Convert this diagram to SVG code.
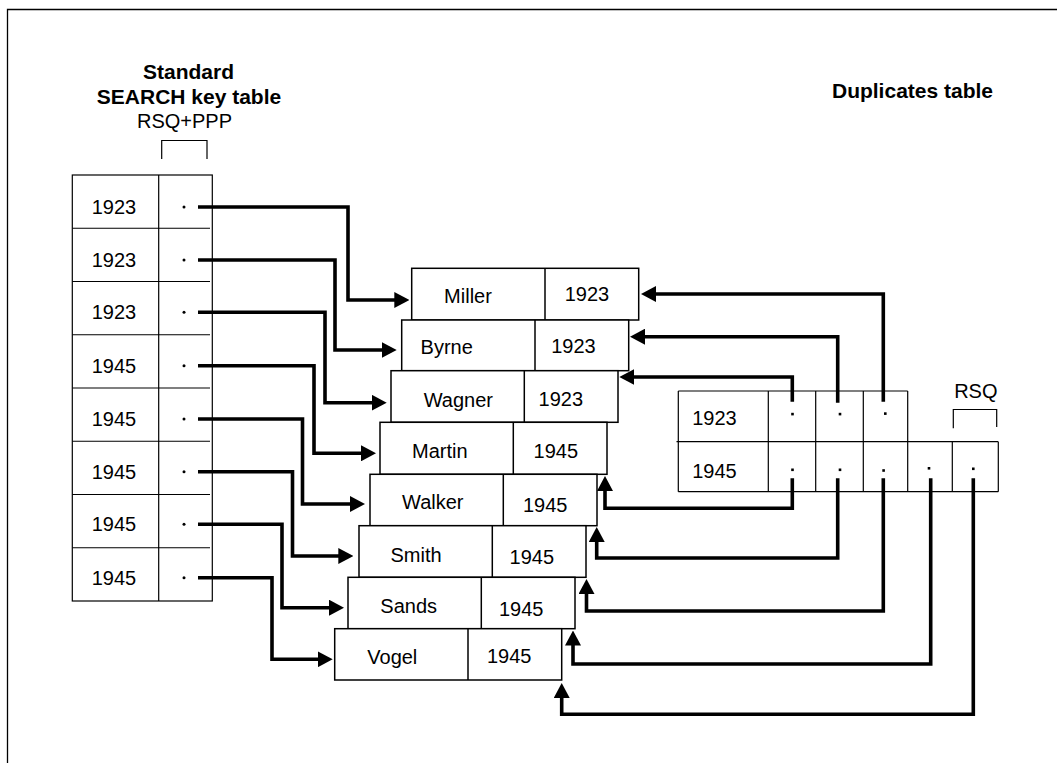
<svg xmlns="http://www.w3.org/2000/svg" width="1057" height="763" viewBox="0 0 1057 763">
<defs>
<style>
.t{font-family:"Liberation Sans",Arial,Helvetica,sans-serif;font-size:20px;fill:#000;text-anchor:middle}
.b{font-weight:bold;font-size:21px}
.thin{fill:none;stroke:#000;stroke-width:1.2}
.box{fill:#fff;stroke:#000;stroke-width:1.5}
.con{fill:none;stroke:#000;stroke-width:3.6;stroke-linejoin:miter;marker-end:url(#ah)}
.con0{fill:none;stroke:#000;stroke-width:3.6;stroke-linejoin:miter}
.dot{fill:#000}
</style>
<marker id="ah" viewBox="0 0 15 16" markerWidth="15" markerHeight="16" refX="5" refY="8" orient="auto" markerUnits="userSpaceOnUse">
<path d="M0,0 L15,8 L0,16 z" fill="#000"/>
</marker>
</defs>
<rect width="1057" height="763" fill="#fff"/>
<path d="M7.5,763 V9.5 H1057" fill="none" stroke="#000" stroke-width="1.3"/>

<g id="search-key-table">
<text class="t b" x="188.5" y="79">Standard</text>
<text class="t b" x="189" y="104">SEARCH key table</text>
<text class="t" x="184.5" y="128">RSQ+PPP</text>
<path class="thin" d="M161.7,159 V140.5 H207 V159"/>
<rect class="thin" x="72.3" y="175" width="140" height="426"/>
<path class="thin" d="M158.7,175 V601 M72.3,228.25 H210 M72.3,281.5 H210 M72.3,334.75 H210 M72.3,388 H210 M72.3,441.25 H210 M72.3,494.5 H210 M72.3,547.75 H210"/>
<text class="t" x="114" y="214">1923</text>
<text class="t" x="114" y="267">1923</text>
<text class="t" x="114" y="319.3">1923</text>
<text class="t" x="114" y="372.7">1945</text>
<text class="t" x="114" y="426">1945</text>
<text class="t" x="114" y="478.7">1945</text>
<text class="t" x="114" y="531.3">1945</text>
<text class="t" x="114" y="584.7">1945</text>
<g class="dot">
<circle cx="184" cy="207" r="1.5"/><circle cx="184" cy="260" r="1.5"/><circle cx="184" cy="312.3" r="1.5"/><circle cx="184" cy="365.7" r="1.5"/>
<circle cx="184" cy="419" r="1.5"/><circle cx="184" cy="471.7" r="1.5"/><circle cx="184" cy="524.3" r="1.5"/><circle cx="184" cy="577.7" r="1.5"/>
</g>
</g>

<g id="rec-miller"><rect class="box" x="411.7" y="268.3" width="227" height="51.7"/><path class="thin" style="stroke-width:1.5" d="M545,268.3 V320"/><text class="t" x="468" y="303.3">Miller</text><text class="t" x="587" y="300.7">1923</text></g>
<g id="rec-byrne"><rect class="box" x="401.7" y="320" width="227" height="50.7"/><path class="thin" style="stroke-width:1.5" d="M535,320 V370.7"/><text class="t" x="446.7" y="354.3">Byrne</text><text class="t" x="573.5" y="352.7">1923</text></g>
<g id="rec-wagner"><rect class="box" x="391" y="370.7" width="227" height="51.6"/><path class="thin" style="stroke-width:1.5" d="M524.3,370.7 V422.3"/><text class="t" x="458.3" y="406.7">Wagner</text><text class="t" x="560.8" y="405.7">1923</text></g>
<g id="rec-martin"><rect class="box" x="380" y="422.3" width="227" height="52"/><path class="thin" style="stroke-width:1.5" d="M513.3,422.3 V474.3"/><text class="t" x="439.8" y="458.3">Martin</text><text class="t" x="555.8" y="458.3">1945</text></g>
<g id="rec-walker"><rect class="box" x="370" y="474.3" width="227" height="51.4"/><path class="thin" style="stroke-width:1.5" d="M503.3,474.3 V525.7"/><text class="t" x="432.8" y="509.3">Walker</text><text class="t" x="545.2" y="511.7">1945</text></g>
<g id="rec-smith"><rect class="box" x="359" y="525.7" width="227" height="51.6"/><path class="thin" style="stroke-width:1.5" d="M492.3,525.7 V577.3"/><text class="t" x="416" y="561.7">Smith</text><text class="t" x="531.8" y="564.3">1945</text></g>
<g id="rec-sands"><rect class="box" x="348" y="577.3" width="227" height="51.4"/><path class="thin" style="stroke-width:1.5" d="M481.3,577.3 V628.7"/><text class="t" x="408.7" y="612.7">Sands</text><text class="t" x="521.2" y="615.7">1945</text></g>
<g id="rec-vogel"><rect class="box" x="334.7" y="628.7" width="227" height="51.3"/><path class="thin" style="stroke-width:1.5" d="M468,628.7 V680"/><text class="t" x="392.3" y="664.3">Vogel</text><text class="t" x="509.2" y="663.3">1945</text></g>

<g id="duplicates-table">
<text class="t b" x="912.5" y="98">Duplicates table</text>
<text class="t" x="975.8" y="398.3">RSQ</text>
<path class="thin" d="M953.3,428.3 V409.5 H996.7 V427"/>
<path class="thin" d="M678.3,391 H907.7 M676.5,441.7 H998.3 M678.3,491.7 H998.3 M678.3,391 V491.7 M768.3,391 V491.7 M815.7,391 V491.7 M863.3,391 V491.7 M907.7,391 V491.7 M952.3,441.7 V491.7 M998.3,441.7 V491.7"/>
<text class="t" x="714.5" y="425">1923</text>
<text class="t" x="714.5" y="478.3">1945</text>
<g class="dot">
<rect x="791.2" y="412.8" width="2.6" height="2.6"/><rect x="838.7" y="412.8" width="2.6" height="2.6"/><rect x="884" y="412.3" width="2.6" height="2.6"/>
<rect x="791.2" y="468.5" width="2.6" height="2.6"/><rect x="838.7" y="468.5" width="2.6" height="2.6"/><rect x="882.3" y="469.2" width="2.6" height="2.6"/><rect x="927.7" y="467" width="2.6" height="2.6"/><rect x="972" y="467.5" width="2.6" height="2.6"/>
</g>
</g>

<g id="connectors">
<path class="con" d="M198,207 H348 V300 H399.3"/>
<path class="con" d="M198,260 H335 V350 H386.7"/>
<path class="con" d="M198,312.3 H325 V402.7 H376.7"/>
<path class="con" d="M198,365.7 H314 V453.3 H366"/>
<path class="con" d="M198,419 H302.5 V504 H355"/>
<path class="con" d="M198,471.7 H292.5 V556 H343.3"/>
<path class="con" d="M198,524.3 H282 V607.7 H334"/>
<path class="con" d="M198,577.7 H272 V659.3 H322.7"/>
<path class="con" d="M883.3,401.7 V294 H651"/>
<path class="con" d="M837.7,402.7 V336.7 H640"/>
<path class="con" d="M792.3,401.7 V377 H629.3"/>
<path class="con" d="M792.3,478.3 V508.3 H605 V486"/>
<path class="con" d="M837.7,478.3 V558 H596.7 V537"/>
<path class="con" d="M883.3,478.3 V611 H586.5 V589"/>
<path class="con" d="M930.7,478.3 V664 H573 V640.5"/>
<path class="con" d="M973.3,478.3 V714.3 H561.7 V693"/>
</g>
</svg>
